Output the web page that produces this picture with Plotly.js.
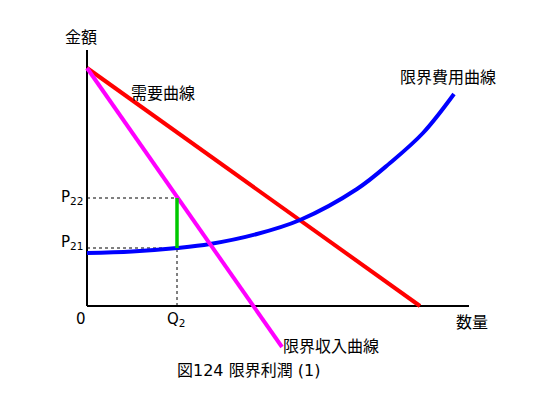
<!DOCTYPE html>
<html>
<head>
<meta charset="utf-8">
<script src="https://cdn.plot.ly/plotly-3.0.1.min.js"></script>
<style>html,body{margin:0;padding:0;background:#fff;}#chart{width:559px;height:397px;}</style>
</head>
<body>
<div id="chart"></div>
<script>
// Data (diagram units)
const demandX = [0, 333];
const demandY = [238, 0];
const mrX = [0, 195];
const mrY = [238, -41];
const mcX = [0, 45, 90, 123, 170, 213, 270, 303, 336, 367];
const mcY = [53, 54.5, 58, 62, 72, 86, 117, 143, 173, 212];
const q2 = 90;
const p21 = 58;
const p22 = 108;
const axisXMax = 382;
const axisYMax = 256;

const FONT = '"Noto Sans CJK JP", "Noto Sans", sans-serif';
const LFONT = '"DejaVu Sans", "Noto Sans CJK JP", sans-serif';

const traces = [
  {x: [0, q2], y: [p22, p22], mode: 'lines', line: {color: '#000', width: 1, dash: 'dot'}, hoverinfo: 'skip'},
  {x: [0, q2], y: [p21, p21], mode: 'lines', line: {color: '#000', width: 1, dash: 'dot'}, hoverinfo: 'skip'},
  {x: [q2, q2], y: [0, p22], mode: 'lines', line: {color: '#000', width: 1, dash: 'dot'}, hoverinfo: 'skip'},
  {x: [0, axisXMax], y: [0, 0], mode: 'lines', line: {color: '#000', width: 2}, hoverinfo: 'skip'},
  {x: [0, 0], y: [0, axisYMax], mode: 'lines', line: {color: '#000', width: 2}, hoverinfo: 'skip'},
  {x: demandX, y: demandY, mode: 'lines', line: {color: '#ff0000', width: 4}, name: '需要曲線'},
  {x: mcX, y: mcY, mode: 'lines', line: {color: '#0000ff', width: 4, shape: 'spline', smoothing: 1}, name: '限界費用曲線'},
  {x: mrX, y: mrY, mode: 'lines', line: {color: '#ff00ff', width: 4}, name: '限界収入曲線'},
  {x: [q2, q2], y: [p21, p22], mode: 'lines', line: {color: '#00c800', width: 3.5}, name: '限界利潤'}
];

function ann(text, x, y, size, xanchor, fam) {
  return {text: text, x: x, y: y, xref: 'x', yref: 'y', showarrow: false,
    xanchor: xanchor || 'center', yanchor: 'middle',
    font: {family: fam || FONT, size: size || 16, color: '#000'}};
}

const layout = {
  width: 559, height: 397,
  margin: {l: 0, r: 0, t: 0, b: 0},
  paper_bgcolor: '#fff', plot_bgcolor: '#fff',
  showlegend: false,
  xaxis: {range: [-87, 472], showgrid: false, zeroline: false, showticklabels: false, showline: false, fixedrange: true},
  yaxis: {range: [-91, 306], showgrid: false, zeroline: false, showticklabels: false, showline: false, fixedrange: true},
  annotations: [
    ann('金額', -6, 270, 16),
    ann('需要曲線', 76, 214, 16),
    ann('限界費用曲線', 361, 230, 16),
    ann('限界収入曲線', 244, -39, 16),
    ann('数量', 385, -15, 16),
    ann('0', -6, -13, 15, 'center', LFONT),
    ann('Q<sub>2</sub>', 89, -13, 15, 'center', LFONT),
    ann('P<sub>22</sub>', -2, p22 + 1, 15, 'right', LFONT),
    ann('P<sub>21</sub>', -2, p21 + 6, 15, 'right', LFONT),
    ann('図124 限界利潤 (1)', 161, -64, 16, 'center', LFONT)
  ]
};

Plotly.newPlot('chart', traces, layout, {staticPlot: true, displayModeBar: false});
</script>
</body>
</html>
